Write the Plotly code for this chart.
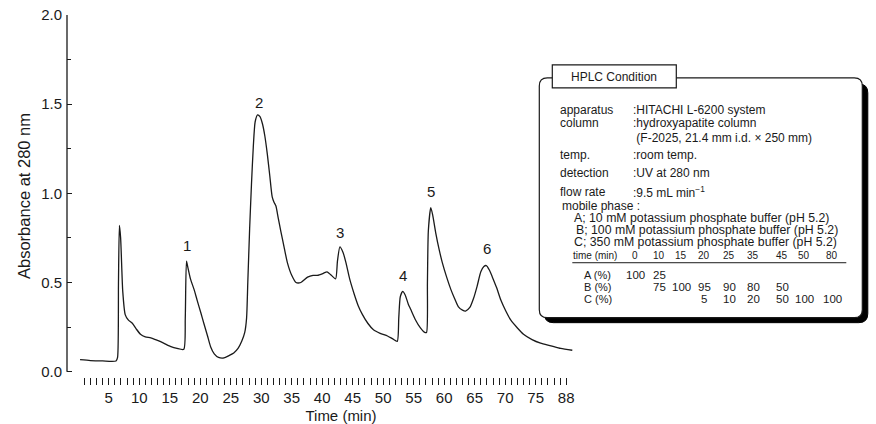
import plotly.graph_objects as go

# ---------------- data ----------------
time_min = [0.3, 2, 4, 6.2, 6.45, 6.6, 6.75, 6.95, 7.3, 7.7, 8.2, 8.9, 9.5, 10.2, 11, 11.9, 13, 14, 15.2,
            16.2, 17.3, 17.55, 17.75, 18, 18.4, 19, 19.5, 20.1, 20.6, 21.2, 21.7, 22.3, 23, 23.9, 24.7,
            25.5, 26.2, 26.8, 27.3, 27.6, 27.8, 28.1, 28.4, 28.7, 29.0, 29.4, 29.8, 30.2, 30.6, 31,
            31.4, 31.8, 32.1, 32.4, 32.8, 33.2, 33.8, 34.3, 35, 35.7, 36.5, 37.6, 38.5, 39.2, 40.1,
            40.8, 41.5, 42.2, 42.5, 42.9, 43.4, 43.9, 44.5, 45.2, 45.9, 46.6, 47.5, 48.4, 49.5, 50.7,
            51.5, 52.3, 52.55, 52.8, 53.2, 53.6, 54.1, 54.5, 55.3, 56.1, 56.8, 57.1, 57.25, 57.4,
            57.8, 58.1, 58.6, 59.2, 59.7, 60.4, 61.1, 61.7, 62.3, 63, 63.5, 64.2, 64.8, 65.4, 66,
            66.5, 66.9, 67.4, 67.9, 68.6, 69.3, 70.1, 70.9, 72, 73, 74.4, 75.8, 77.5, 79.1, 81]
absorbance = [0.067, 0.062, 0.060, 0.060, 0.08, 0.5, 0.82, 0.75, 0.45, 0.32, 0.29, 0.27, 0.24, 0.21,
              0.195, 0.19, 0.175, 0.16, 0.14, 0.13, 0.125, 0.3, 0.62, 0.58, 0.52, 0.46, 0.40, 0.33,
              0.27, 0.2, 0.14, 0.10, 0.08, 0.077, 0.09, 0.105, 0.13, 0.17, 0.22, 0.3, 0.5, 0.8, 1.05,
              1.26, 1.4, 1.44, 1.43, 1.39, 1.32, 1.22, 1.1, 0.98, 0.95, 0.93, 0.86, 0.79, 0.69, 0.61,
              0.54, 0.50, 0.50, 0.53, 0.54, 0.54, 0.55, 0.56, 0.54, 0.52, 0.62, 0.70, 0.67, 0.61,
              0.52, 0.44, 0.37, 0.32, 0.27, 0.235, 0.215, 0.20, 0.185, 0.17, 0.30, 0.42, 0.45, 0.43,
              0.38, 0.35, 0.29, 0.245, 0.22, 0.22, 0.5, 0.79, 0.92, 0.88, 0.78, 0.68, 0.61, 0.53,
              0.46, 0.41, 0.365, 0.345, 0.34, 0.36, 0.41, 0.48, 0.56, 0.59, 0.595, 0.57, 0.53, 0.47,
              0.40, 0.34, 0.29, 0.245, 0.21, 0.18, 0.16, 0.145, 0.13, 0.12]

peak_labels = ["1", "2", "3", "4", "5", "6"]
peak_time = [17.8, 29.6, 42.9, 53.2, 57.8, 67.0]
peak_label_y = [0.71, 1.51, 0.78, 0.54, 1.01, 0.69]

x_tickvals = [5, 10, 15, 20, 25, 30, 35, 40, 45, 50, 55, 60, 65, 70, 75, 80]
x_ticktext = ["5", "10", "15", "20", "25", "30", "35", "40", "45", "50", "55", "60", "65", "70", "75", "88"]
y_tickvals = [0.0, 0.5, 1.0, 1.5, 2.0]
y_ticktext = ["0.0", "0.5", "1.0", "1.5", "2.0"]

cond_keys = ["apparatus", "column", "", "temp.", "detection", "flow rate"]
cond_vals = [":HITACHI L-6200 system", ":hydroxyapatite column", " (F-2025, 21.4 mm i.d. \u00d7 250 mm)",
             ":room temp.", ":UV at 280 nm", ":9.5 mL min<sup>\u22121</sup>"]
mobile_lines = ["A; 10 mM potassium phosphate buffer (pH 5.2)",
                "B; 100 mM potassium phosphate buffer (pH 5.2)",
                "C; 350 mM potassium phosphate buffer (pH 5.2)"]
grad_time = ["0", "10", "15", "20", "25", "35", "45", "50", "80"]
grad_A = ["100", "25", "", "", "", "", "", "", ""]
grad_B = ["", "75", "100", "95", "90", "80", "50", "", ""]
grad_C = ["", "", "", "5", "10", "20", "50", "100", "100"]

# ---------------- layout geometry ----------------
W_FIG, H_FIG = 876, 424
L, R, T, B = 66.7, 614.7, 15, 377.4
PW, PH = R - L, B - T


def px(x):
    return (x - L) / PW


def py(y):
    return (B - y) / PH


def rrect(x0, y0, x1, y1, r):
    pts = [("M", x0 + r, y0), ("L", x1 - r, y0), ("Q", x1, y0, x1, y0 + r), ("L", x1, y1 - r),
           ("Q", x1, y1, x1 - r, y1), ("L", x0 + r, y1), ("Q", x0, y1, x0, y1 - r),
           ("L", x0, y0 + r), ("Q", x0, y0, x0 + r, y0)]
    s = ""
    for p in pts:
        if p[0] == "Q":
            s += "Q%.5f,%.5f %.5f,%.5f " % (px(p[1]), py(p[2]), px(p[3]), py(p[4]))
        else:
            s += "%s%.5f,%.5f " % (p[0], px(p[1]), py(p[2]))
    return s + "Z"


FONT = "Liberation Sans, Arial, sans-serif"
INK = "#1a1a1a"

fig = go.Figure()
fig.add_trace(go.Scatter(x=time_min, y=absorbance, mode="lines",
                         line=dict(color=INK, width=1.3, shape="spline", smoothing=0.6),
                         hoverinfo="skip", showlegend=False))

annotations = []
for lab, t, yv in zip(peak_labels, peak_time, peak_label_y):
    annotations.append(dict(x=t, y=yv, xref="x", yref="y", text=lab, showarrow=False,
                            font=dict(family=FONT, size=15, color=INK)))

shapes = []
# y-axis line
shapes.append(dict(type="line", xref="x domain", yref="y", x0=0, x1=0, y0=0, y1=2.0,
                   line=dict(color=INK, width=1.3)))
# box shadow, box, tab
shapes.append(dict(type="path", xref="paper", yref="paper", path=rrect(544, 84, 867.5, 323, 9),
                   fillcolor="#000000", line=dict(color="#000000", width=1)))
shapes.append(dict(type="path", xref="paper", yref="paper", path=rrect(539, 78, 862, 318, 8),
                   fillcolor="#ffffff", line=dict(color=INK, width=1.2)))
shapes.append(dict(type="rect", xref="paper", yref="paper", x0=px(552), x1=px(676), y0=py(88), y1=py(65),
                   fillcolor="#ffffff", line=dict(color=INK, width=1.2)))
# gradient table rule
shapes.append(dict(type="line", xref="paper", yref="paper", x0=px(572), x1=px(846), y0=py(263), y1=py(263),
                   line=dict(color=INK, width=1)))


def txt(x, y, s, size=11, anchor="left"):
    annotations.append(dict(x=px(x), y=py(y), xref="paper", yref="paper", text=s, showarrow=False,
                            xanchor=anchor, yanchor="middle", borderpad=0,
                            font=dict(family=FONT, size=size, color=INK)))


txt(614, 77, "HPLC Condition", size=12, anchor="center")
row_y = [110, 123, 138, 155, 173, 192]
for k, v, yy in zip(cond_keys, cond_vals, row_y):
    if k:
        txt(559, yy, k, size=12)
    txt(632, yy, v, size=12)
txt(561, 206, "mobile phase :", size=12)
for s, yy, xx in zip(mobile_lines, [218.5, 230.5, 242.5], [573, 575, 573]):
    txt(xx, yy, s, size=12.3)
txt(572, 256, "time (min)", size=10)
col_x = [635, 659, 681, 704, 729, 753, 782, 804, 832]
for xx, s in zip(col_x, grad_time):
    txt(xx, 256, s, size=10, anchor="center")
txt(583, 275, "A (%)", size=11)
txt(583, 287, "B (%)", size=11)
txt(583, 299, "C (%)", size=11)
for row, yy in zip([grad_A, grad_B, grad_C], [275, 287, 299]):
    for xx, s in zip(col_x, row):
        if s:
            txt(xx, yy, s, size=11.5, anchor="center")

fig.update_layout(
    width=W_FIG, height=H_FIG,
    margin=dict(l=L, r=W_FIG - R, t=T, b=H_FIG - B, autoexpand=False),
    paper_bgcolor="white", plot_bgcolor="white",
    showlegend=False,
    font=dict(family=FONT, size=15, color=INK),
    xaxis=dict(range=[-1.84, 88], showgrid=False, zeroline=False, showline=False,
               tickmode="array", tickvals=x_tickvals, ticktext=x_ticktext,
               ticks="outside", ticklen=7, tickwidth=1.4, tickcolor=INK,
               minor=dict(tickmode="array", tickvals=list(range(1, 81)), ticks="outside",
                          ticklen=7, tickwidth=1.4, tickcolor=INK),
               tickfont=dict(family=FONT, size=15, color=INK),
               title=dict(text="Time (min)", font=dict(family=FONT, size=15, color=INK), standoff=12)),
    yaxis=dict(range=[-0.03, 2.0], showgrid=False, zeroline=False, showline=False,
               tickmode="array", tickvals=y_tickvals, ticktext=y_ticktext,
               ticks="inside", ticklen=5, tickwidth=1.3, tickcolor=INK,
               minor=dict(tickmode="array", tickvals=[0.25, 0.75, 1.25, 1.75], ticks="inside",
                          ticklen=4, tickwidth=1.3, tickcolor=INK),
               tickfont=dict(family=FONT, size=15, color=INK), ticklabelstandoff=4,
               title=dict(text="Absorbance at 280 nm", font=dict(family=FONT, size=16.5, color=INK),
                          standoff=6)),
    shapes=shapes,
    annotations=annotations,
)

fig.write_html("out.html")
